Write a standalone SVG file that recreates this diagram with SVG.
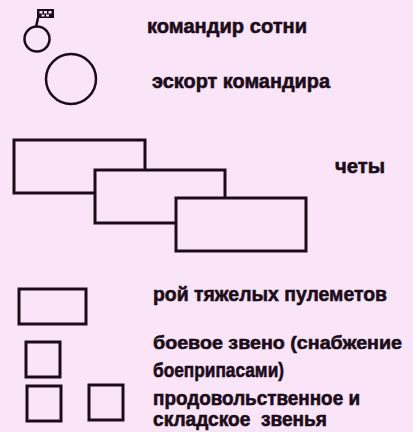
<svg xmlns="http://www.w3.org/2000/svg" width="413" height="432" viewBox="0 0 413 432">
<style>
.bg{fill:#fae5f8}
.sh{fill:#fae5f8;stroke:#1c0c1a;stroke-width:3;stroke-linejoin:miter}
.ln{fill:none;stroke:#1c0c1a;stroke-width:2.5}
.t{font-family:"Liberation Sans",Arial,sans-serif;font-weight:bold;font-size:21px;fill:#1c0c1a;stroke:#1c0c1a;stroke-width:0.6}
.s{font-size:20px}
.xs{font-size:19px}
</style>
<rect class="bg" x="0" y="0" width="413" height="432"/>
<g id="commander">
<line class="ln" x1="38" y1="18" x2="36" y2="27"/>
<rect x="37" y="9" width="17" height="9" fill="#1c0c1a"/>
<rect x="39.5" y="11" width="3" height="2.5" fill="#fae5f8"/>
<rect x="44" y="11" width="3" height="2.5" fill="#fae5f8"/>
<rect x="48.5" y="11" width="3" height="2.5" fill="#fae5f8"/>
<rect x="41.5" y="14.5" width="3" height="2" fill="#fae5f8"/>
<rect x="46" y="14.5" width="3" height="2" fill="#fae5f8"/>
<circle class="ln" cx="37" cy="39" r="12.5"/>
<text class="t" x="147" y="33" textLength="160" lengthAdjust="spacingAndGlyphs">командир сотни</text>
</g>
<g id="escort">
<circle class="ln" cx="71" cy="79" r="25"/>
<text class="t" x="152" y="88" textLength="178" lengthAdjust="spacingAndGlyphs">эскорт командира</text>
</g>
<g id="chety">
<rect class="sh" x="14" y="140" width="131" height="53"/>
<rect class="sh" x="95" y="170" width="130" height="53"/>
<rect class="sh" x="176" y="198" width="130" height="53"/>
<text class="t" x="335" y="173" textLength="50" lengthAdjust="spacingAndGlyphs">четы</text>
</g>
<g id="heavy-mg">
<rect class="sh" x="19" y="289" width="67" height="35"/>
<text class="t" x="153" y="301" textLength="234" lengthAdjust="spacingAndGlyphs">рой тяжелых пулеметов</text>
</g>
<g id="combat-link">
<rect class="sh" x="26" y="342" width="34" height="35"/>
<text class="t xs" x="153" y="349" textLength="249" lengthAdjust="spacingAndGlyphs">боевое звено (снабжение</text>
<text class="t" x="153" y="377" textLength="131" lengthAdjust="spacingAndGlyphs">боеприпасами)</text>
</g>
<g id="supply-links">
<rect class="sh" x="27" y="386" width="34" height="35"/>
<rect class="sh" x="89" y="385" width="34" height="35"/>
<text class="t s" x="153" y="405" textLength="207" lengthAdjust="spacingAndGlyphs">продовольственное и</text>
<text class="t s" x="153" y="426" textLength="174" lengthAdjust="spacingAndGlyphs" xml:space="preserve">складское  звенья</text>
</g>
<g id="connectors"></g>
</svg>
